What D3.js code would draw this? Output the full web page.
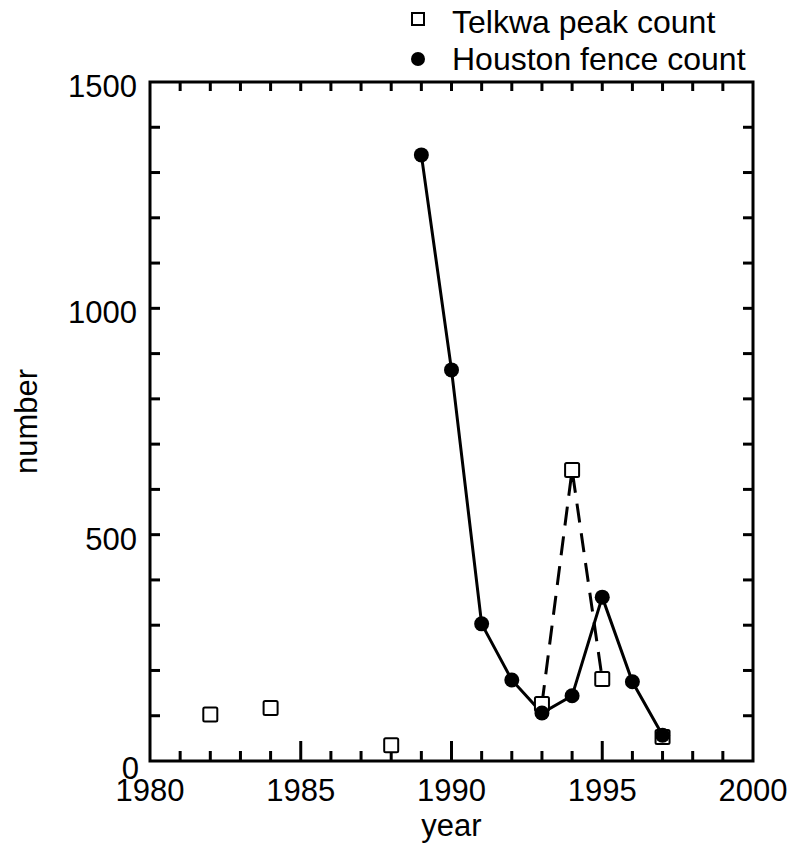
<!DOCTYPE html>
<html>
<head>
<meta charset="utf-8">
<script src="https://cdn.jsdelivr.net/npm/d3@7"></script>
<style>
  body { margin: 0; background: #fff; }
  text { font-family: "Liberation Sans", Arial, sans-serif; fill: #000; }
</style>
</head>
<body>
<svg id="chart" width="796" height="859"></svg>
<script>
const telkwaYears = [1982, 1984, 1988, 1993, 1994, 1995, 1997];
const telkwaCounts = [103, 117, 35, 126, 643, 181, 53];
const telkwaDashedYears = [1993, 1994, 1995];

const houstonYears = [1989, 1990, 1991, 1992, 1993, 1994, 1995, 1996, 1997];
const houstonCounts = [1339, 864, 303, 179, 106, 144, 362, 175, 57];

const xTickLabels = [1980, 1985, 1990, 1995, 2000];
const yTickLabels = [0, 500, 1000, 1500];
const legendLabels = ["Telkwa peak count", "Houston fence count"];

const svg = d3.select("#chart");
const pL = 150, pR = 753, pT = 82, pB = 761;
const x = d3.scaleLinear().domain([1980, 2000]).range([pL, pR]);
const y = d3.scaleLinear().domain([0, 1500]).range([pB, pT]);

const fs = 31;
const g = svg.append("g");

// minor & major ticks (inward) on all four sides
const xMinor = d3.range(1981, 2000).filter(v => v % 5 !== 0);
const xMajor = [1985, 1990, 1995];
const yMinor = d3.range(100, 1500, 100).filter(v => v % 500 !== 0);
const yMajor = [500, 1000];

function ticks(vals, len) {
  vals.forEach(v => {
    g.append("line").attr("x1", x(v)).attr("x2", x(v)).attr("y1", pB).attr("y2", pB - len)
      .attr("stroke", "#000").attr("stroke-width", 3);
    g.append("line").attr("x1", x(v)).attr("x2", x(v)).attr("y1", pT).attr("y2", pT + 9)
      .attr("stroke", "#000").attr("stroke-width", 3);
  });
}
ticks(xMinor, 10);
ticks(xMajor, 20);
function yticks(vals, len) {
  vals.forEach(v => {
    g.append("line").attr("x1", pL).attr("x2", pL + len).attr("y1", y(v)).attr("y2", y(v))
      .attr("stroke", "#000").attr("stroke-width", 3);
    g.append("line").attr("x1", pR).attr("x2", pR - len).attr("y1", y(v)).attr("y2", y(v))
      .attr("stroke", "#000").attr("stroke-width", 3);
  });
}
yticks(yMinor, 10);
yticks(yMajor, 10);

// frame
g.append("rect").attr("x", pL).attr("y", pT).attr("width", pR - pL).attr("height", pB - pT)
  .attr("fill", "none").attr("stroke", "#000").attr("stroke-width", 3);

// tick labels
xTickLabels.forEach(v => {
  g.append("text").attr("x", x(v)).attr("y", pB + 40).attr("text-anchor", "middle")
    .attr("font-size", fs).text(v);
});
yTickLabels.forEach(v => {
  g.append("text").attr("x", v === 0 ? pL - 11 : pL - 13).attr("y", y(v) + (v === 0 ? 18 : 15))
    .attr("text-anchor", "end").attr("font-size", fs).text(v);
});

// axis titles
g.append("text").attr("x", x(1990)).attr("y", 836).attr("text-anchor", "middle")
  .attr("font-size", fs).text("year");
g.append("text").attr("transform", `translate(37, ${y(750)}) rotate(-90)`).attr("text-anchor", "middle")
  .attr("font-size", fs).text("number");

// Telkwa dashed line
const line = d3.line().x(d => x(d[0])).y(d => y(d[1]));
const dashedData = telkwaDashedYears.map(yr => [yr, telkwaCounts[telkwaYears.indexOf(yr)]]);
g.append("path").attr("d", line(dashedData)).attr("fill", "none").attr("stroke", "#000")
  .attr("stroke-width", 3).attr("stroke-dasharray", "19,11");

// Houston solid line
const houstonData = houstonYears.map((yr, i) => [yr, houstonCounts[i]]);
g.append("path").attr("d", line(houstonData)).attr("fill", "none").attr("stroke", "#000")
  .attr("stroke-width", 3);

// Telkwa squares
telkwaYears.forEach((yr, i) => {
  g.append("rect").attr("x", x(yr) - 7).attr("y", y(telkwaCounts[i]) - 7)
    .attr("width", 14).attr("height", 14).attr("rx", 1.5)
    .attr("fill", "#fff").attr("stroke", "#000").attr("stroke-width", 2);
});
// Houston circles
houstonData.forEach(d => {
  g.append("circle").attr("cx", x(d[0])).attr("cy", y(d[1])).attr("r", 7.5).attr("fill", "#000");
});

// legend
g.append("rect").attr("x", 412).attr("y", 13).attr("width", 12).attr("height", 12)
  .attr("fill", "#fff").attr("stroke", "#000").attr("stroke-width", 2);
g.append("circle").attr("cx", 418).attr("cy", 59).attr("r", 7).attr("fill", "#000");
g.append("text").attr("x", 452).attr("y", 33).attr("font-size", 32).text(legendLabels[0]);
g.append("text").attr("x", 452).attr("y", 70).attr("font-size", 32).text(legendLabels[1]);
</script>
</body>
</html>
